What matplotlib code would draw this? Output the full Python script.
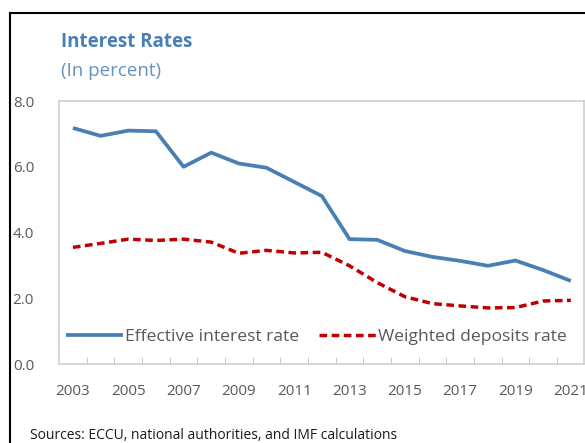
import matplotlib.pyplot as plt
from matplotlib.patches import Rectangle

years = list(range(2003, 2022))
effective_rate = [7.18, 6.94, 7.10, 7.08, 6.00, 6.43, 6.10, 5.97, 5.54, 5.11,
                  3.80, 3.78, 3.44, 3.26, 3.14, 2.99, 3.15, 2.86, 2.53]
deposits_rate = [3.55, 3.67, 3.80, 3.76, 3.80, 3.71, 3.37, 3.46, 3.38, 3.40,
                 2.99, 2.48, 2.05, 1.84, 1.77, 1.71, 1.72, 1.92, 1.94]
xtick_years = years[::2]
yticks = [0, 2, 4, 6, 8]

plt.rcParams['font.family'] = ['Open Sans', 'DejaVu Sans']

blue = '#4a7fb3'
red = '#c00000'
gray = '#595959'

fig = plt.figure(figsize=(5.85, 4.43), dpi=100)
ax = fig.add_axes([0.101, 0.178, 0.897, 0.594])

ax.plot(years, effective_rate, color=blue, lw=2.7, solid_capstyle='butt',
        label='Effective interest rate')
ax.plot(years, deposits_rate, color=red, lw=2.5, dashes=(2.2, 1.3),
        label='Weighted deposits rate')

ax.set_xlim(2002.5, 2021.47)
ax.set_ylim(0, 8)
ax.set_yticks(yticks)
ax.set_yticklabels([f'{v:.1f}' for v in yticks])
ax.set_xticks(xtick_years)
ax.set_xticks([y + 0.5 for y in years[:-1]], minor=True)
ax.tick_params(axis='x', which='major', length=0, colors=gray, labelsize=11, pad=14)
ax.tick_params(axis='x', which='minor', direction='in', length=5, color='#bfbfbf')
ax.tick_params(axis='y', length=0, colors=gray, labelsize=11, pad=18)
for s in ax.spines.values():
    s.set_color('#d0d0d0')
    s.set_linewidth(1.2)

leg = ax.legend(loc='lower center', bbox_to_anchor=(0.49, 0.045), ncol=2, frameon=False,
                fontsize=12.6, handlelength=3.3, handletextpad=0.1, columnspacing=1.1,
                borderaxespad=0)
for t in leg.get_texts():
    t.set_color(gray)

fig.text(0.104, 0.905, 'Interest Rates', color=blue, fontsize=13.5, fontweight='bold',
         va='center')
fig.text(0.104, 0.84, '(In percent)', color=blue, fontsize=13.5, alpha=0.85, va='center')
fig.text(0.051, 0.016, 'Sources: ECCU, national authorities, and IMF calculations',
         color='#1a1a1a', fontsize=10, va='center')

fig.patches.append(Rectangle((0.017, -0.1), 1.2, 0.071 + 1.0, transform=fig.transFigure,
                             fill=False, edgecolor='black', lw=1.5))

fig.savefig('out.png', dpi=100)
